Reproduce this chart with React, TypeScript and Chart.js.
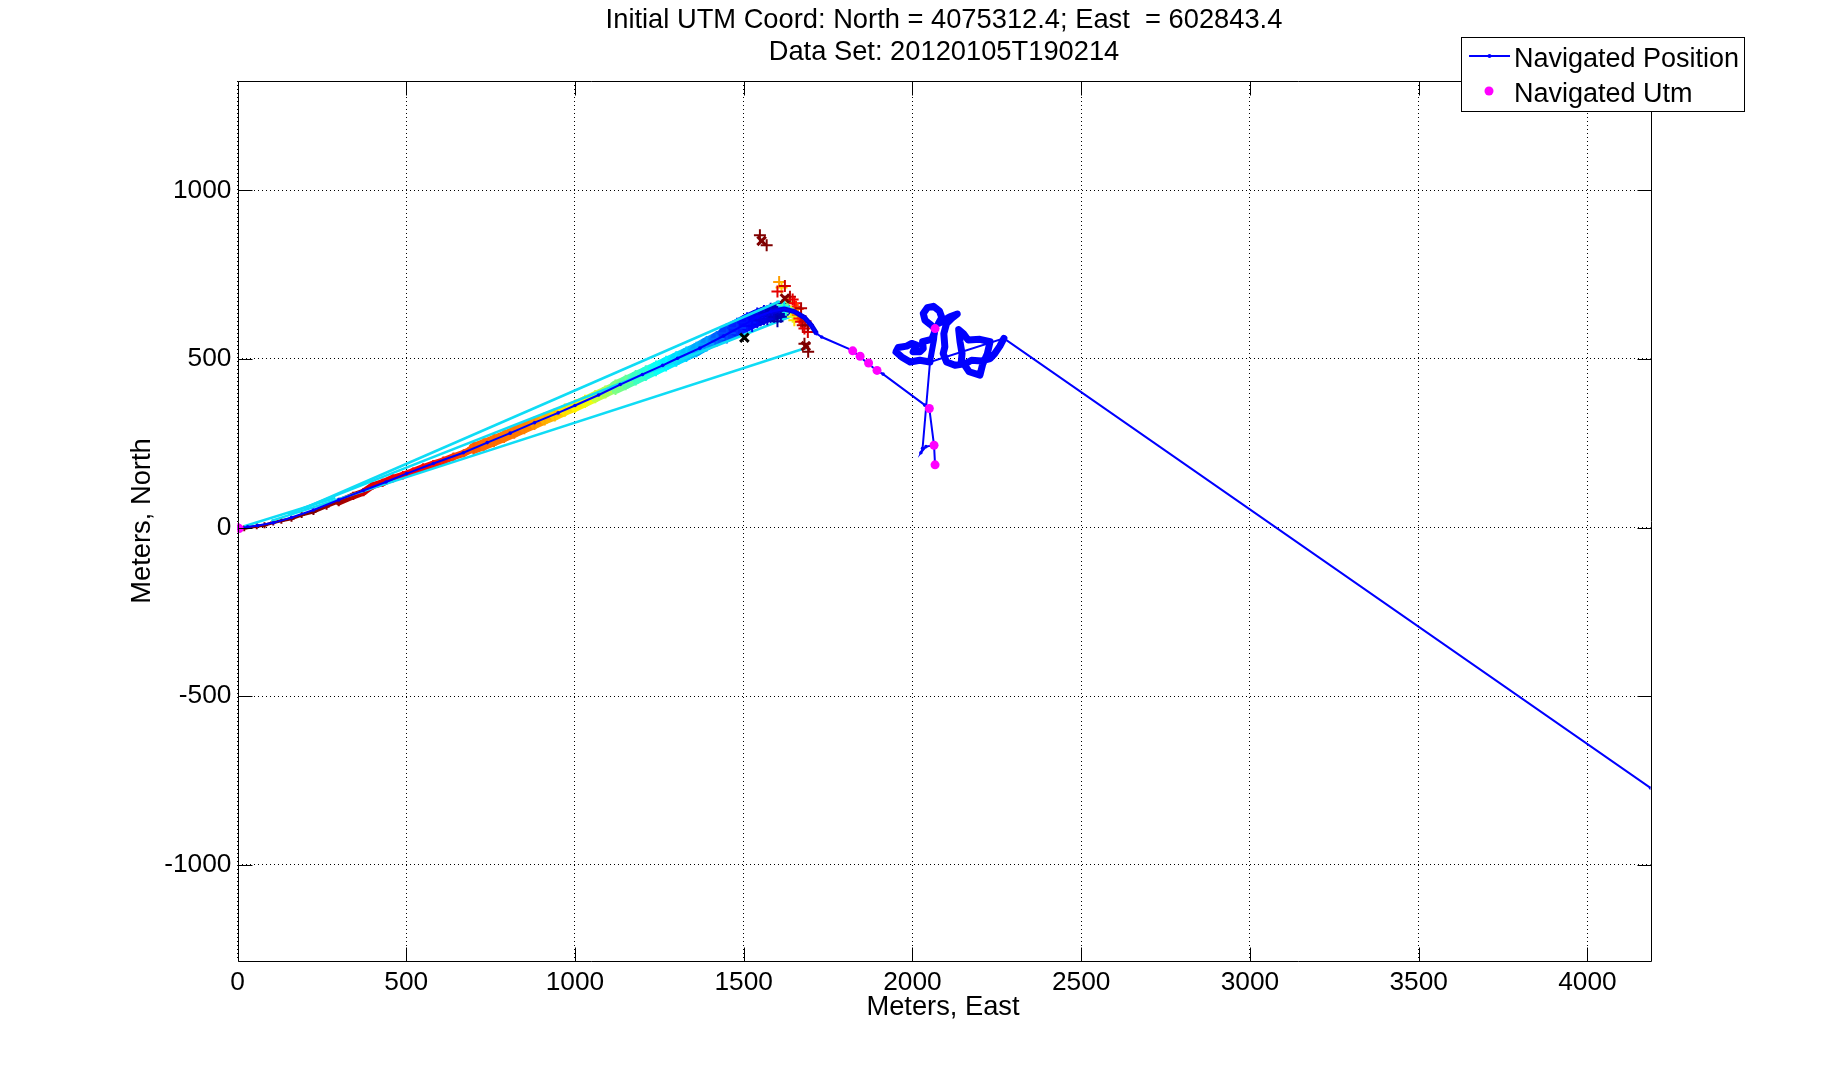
import { useEffect, useRef } from 'react';
import { Chart, registerables } from 'chart.js';

Chart.register(...registerables);

const TITLE_LINES = ['Initial UTM Coord: North = 4075312.4; East  = 602843.4', 'Data Set: 20120105T190214'];
const X_LABEL = 'Meters, East';
const Y_LABEL = 'Meters, North';
const LEGEND_LABELS = ['Navigated Position', 'Navigated Utm'];

const X_TICKS = [0, 500, 1000, 1500, 2000, 2500, 3000, 3500, 4000];
const Y_TICKS = [-1000, -500, 0, 500, 1000];
const X_MIN = 0;
const X_MAX = 4187;
const Y_MIN = -1285;
const Y_MAX = 1324;

// Navigated Position route (meters east / north)
const navEast = [0, 30, 60, 106, 160, 225, 300, 373, 440, 501, 580, 669, 740, 808, 880, 950, 1000, 1070, 1134, 1200, 1260, 1304, 1370, 1440, 1500, 1540, 1580, 1620, 1650, 1681, 1700, 1716, 1731, 1820, 1895, 1913, 2037, 2050, 2064, 2067, 2064, 2040, 2025, 2030, 2052, 2271, 4187];
const navNorth = [0, 2, 6, 14, 30, 52, 82, 110, 135, 160, 190, 222, 252, 280, 311, 340, 362, 393, 424, 454, 481, 502, 532, 568, 600, 625, 640, 648, 640, 622, 600, 575, 565, 526, 465, 455, 363, 353, 244, 186, 244, 240, 222, 235, 491, 561, -772];

// dense looping section of the route
const loopEast = [2052, 2022, 1993, 1968, 1951, 1958, 1983, 1998, 2012, 2002, 2022, 2032, 2030, 2057, 2064, 2067, 2052, 2037, 2032, 2044, 2062, 2080, 2087, 2077, 2086, 2111, 2133, 2116, 2101, 2093, 2096, 2091, 2101, 2126, 2144, 2147, 2141, 2137, 2151, 2165, 2200, 2230, 2222, 2208, 2200, 2168, 2153, 2175, 2205, 2230, 2244, 2259, 2271];
const loopNorth = [491, 496, 491, 506, 521, 534, 538, 546, 541, 521, 521, 531, 551, 558, 575, 590, 603, 615, 635, 652, 656, 642, 623, 605, 610, 625, 633, 620, 605, 575, 536, 516, 491, 481, 484, 516, 551, 587, 575, 556, 558, 551, 516, 484, 452, 462, 484, 496, 494, 501, 516, 538, 561];
const legEast = [2052, 2057, 2064, 2067];
const legNorth = [491, 520, 558, 590];
const clusterRouteEast = [1580, 1620, 1650, 1681, 1700, 1716];
const clusterRouteNorth = [640, 648, 640, 622, 600, 575];

// Navigated Utm fixes
const utmEast = [0, 5, 1823, 1845, 1870, 1895, 2050, 2067, 2064, 2067];
const utmNorth = [0, -3, 524, 508, 488, 466, 353, 590, 244, 186];

// colour-coded track estimates (value mapped through jet colormap)
const trackEast = [20, 57, 80, 106, 130, 160, 190, 225, 264, 300, 343, 373, 400, 430, 460, 490, 520, 550, 580, 610, 640, 670, 700, 730, 760, 790, 820, 850, 880, 910, 940, 970, 1000, 1030, 1060, 1090, 1120, 1150, 1180, 1210, 1240, 1270, 1300, 1330, 1360, 1390, 1420, 1450, 1480, 1510, 1540, 1560, 1580, 1600, 1615];
const trackNorth = [-2, 4, 7, 15, 20, 26, 37, 46, 62, 76, 94, 105, 124, 133, 146, 155, 166, 178, 188, 198, 210, 220, 235, 246, 258, 270, 283, 296, 309, 322, 334, 348, 360, 374, 388, 402, 416, 430, 444, 458, 472, 486, 500, 514, 528, 545, 560, 576, 592, 608, 622, 630, 636, 642, 646];
const trackValue = [1, 1, 1, 1, 1, 1, 1, 1, 0.98, 0.97, 0.95, 0.93, 0.9, 0.9, 0.89, 0.88, 0.87, 0.87, 0.86, 0.85, 0.82, 0.8, 0.79, 0.77, 0.77, 0.76, 0.76, 0.75, 0.74, 0.71, 0.69, 0.66, 0.64, 0.63, 0.57, 0.55, 0.5, 0.48, 0.44, 0.42, 0.39, 0.37, 0.35, 0.33, 0.3, 0.28, 0.24, 0.2, 0.17, 0.14, 0.12, 0.1, 0.08, 0.06, 0.05];

const clusterEast = [1605, 1612, 1600, 1622, 1630, 1615, 1637, 1645, 1650, 1655, 1660, 1640, 1645, 1650, 1660, 1665, 1670, 1675, 1680, 1690, 1670, 1683, 1690, 1630, 1625, 1620, 1548, 1568, 1691, 1680, 1590, 1610, 1570, 1600, 1550, 1525];
const clusterNorth = [728, 712, 700, 716, 668, 660, 684, 676, 665, 655, 648, 640, 625, 615, 630, 620, 610, 600, 590, 580, 650, 612, 600, 650, 640, 655, 867, 837, 521, 545, 625, 625, 618, 612, 615, 598];
const clusterValue = [0.72, 0.68, 0.9, 0.92, 0.55, 0.45, 0.95, 0.9, 0.88, 0.85, 0.8, 0.62, 0.58, 0.66, 0.75, 0.85, 0.9, 0.95, 0.9, 0.92, 0.95, 0.93, 0.98, 0.5, 0.4, 0.35, 1, 1, 1, 1, 0.07, 0.05, 0.09, 0.04, 0.1, 0.12];

// straight fix-to-fix jumps (cyan)
const jumpStartEast = [200, 150, 100, 20];
const jumpStartNorth = [58, 40, 20, 4];
const jumpEndEast = [1607, 1637, 1686, 290];
const jumpEndNorth = [671, 625, 533, 88];

// rejected fixes
const rejectEast = [1553, 1622, 1684];
const rejectNorth = [850, 679, 538];
const badEast = [1502];
const badNorth = [563];

const FONT = 'Liberation Sans, Arial, Helvetica, sans-serif';

const pts = (xs: number[], ys: number[]) => xs.map((x, i) => ({ x, y: ys[i] }));

const jet = (v: number) => {
  const c = (t: number) => Math.round(255 * Math.max(0, Math.min(1, t)));
  const r = c(1.5 - Math.abs(4 * v - 3));
  const g = c(1.5 - Math.abs(4 * v - 2));
  const b = c(1.5 - Math.abs(4 * v - 1));
  return `rgb(${r},${g},${b})`;
};

const bandWidth = (x: number) => (x < 300 ? 3 : x < 700 ? 7 : x < 1100 ? 11 : x < 1450 ? 13 : 17);

const framePlugin = {
  id: 'matlabFrame',
  afterDraw(chart: any) {
    const { ctx, chartArea } = chart;
    const { left, right, top, bottom } = chartArea;
    const xs = chart.scales.x;
    const ys = chart.scales.y;
    ctx.save();
    ctx.strokeStyle = '#000';
    ctx.lineWidth = 1;
    const L = Math.round(left) + 0.5;
    const R = Math.round(right) + 0.5;
    const T = Math.round(top) + 0.5;
    const B = Math.round(bottom) + 0.5;
    ctx.beginPath();
    ctx.rect(L, T, R - L, B - T);
    ctx.stroke();
    const tl = 14;
    ctx.beginPath();
    X_TICKS.forEach((v) => {
      const p = Math.round(xs.getPixelForValue(v)) + 0.5;
      ctx.moveTo(p, B);
      ctx.lineTo(p, B - tl);
      ctx.moveTo(p, T);
      ctx.lineTo(p, T + tl);
    });
    Y_TICKS.forEach((v) => {
      const p = Math.round(ys.getPixelForValue(v)) + 0.5;
      ctx.moveTo(L, p);
      ctx.lineTo(L + tl, p);
      ctx.moveTo(R, p);
      ctx.lineTo(R - tl, p);
    });
    ctx.stroke();

    // titles
    ctx.fillStyle = '#000';
    ctx.font = `27.3px ${FONT}`;
    ctx.textAlign = 'center';
    ctx.textBaseline = 'alphabetic';
    const cx = (left + right) / 2;
    ctx.fillText(TITLE_LINES[0], cx, 28);
    ctx.fillText(TITLE_LINES[1], cx, 60);
    ctx.fillText(X_LABEL, cx - 1, 1015);
    ctx.save();
    ctx.translate(150, (top + bottom) / 2);
    ctx.rotate(-Math.PI / 2);
    ctx.fillText(Y_LABEL, 0, 0);
    ctx.restore();

    // legend
    const lx = 1461.5, ly = 37.5, lw = 283, lh = 74;
    ctx.fillStyle = '#fff';
    ctx.fillRect(lx, ly, lw, lh);
    ctx.strokeStyle = '#000';
    ctx.lineWidth = 1;
    ctx.strokeRect(lx, ly, lw, lh);
    ctx.strokeStyle = '#0000ff';
    ctx.lineWidth = 2;
    ctx.beginPath();
    ctx.moveTo(1469, 56);
    ctx.lineTo(1510, 56);
    ctx.stroke();
    ctx.fillStyle = '#0000ff';
    ctx.beginPath();
    ctx.arc(1489.5, 56, 2, 0, Math.PI * 2);
    ctx.fill();
    ctx.fillStyle = '#ff00ff';
    ctx.beginPath();
    ctx.arc(1489, 91, 4.5, 0, Math.PI * 2);
    ctx.fill();
    ctx.fillStyle = '#000';
    ctx.font = `27px ${FONT}`;
    ctx.textAlign = 'left';
    ctx.fillText(LEGEND_LABELS[0], 1514, 67);
    ctx.fillText(LEGEND_LABELS[1], 1514, 102);
    ctx.restore();
  },
};

export default function App() {
  const ref = useRef<HTMLCanvasElement | null>(null);

  useEffect(() => {
    document.body.style.margin = '0';
    const canvas = ref.current;
    if (!canvas) return;

    const jumpSets = jumpStartEast.map((sx, i) => ({
      label: '',
      data: pts([sx, jumpEndEast[i]], [jumpStartNorth[i], jumpEndNorth[i]]),
      showLine: true,
      borderColor: '#0fdcf5',
      borderWidth: 2.5,
      pointRadius: 0,
      order: 5,
    }));

    const chart = new Chart(canvas, {
      type: 'scatter',
      data: {
        datasets: [
          {
            label: LEGEND_LABELS[1],
            data: pts(utmEast, utmNorth),
            pointStyle: 'circle',
            pointRadius: 4.5,
            pointBackgroundColor: '#ff00ff',
            pointBorderColor: '#ff00ff',
            pointBorderWidth: 0,
            order: 0,
          },
          {
            label: '',
            data: pts(badEast, badNorth),
            pointStyle: 'crossRot',
            pointRadius: 6,
            pointBorderWidth: 3,
            pointBorderColor: '#000',
            order: 1,
          },
          {
            label: '',
            data: pts(rejectEast, rejectNorth),
            pointStyle: 'crossRot',
            pointRadius: 6,
            pointBorderWidth: 3,
            pointBorderColor: '#800000',
            order: 1,
          },
          {
            label: LEGEND_LABELS[0],
            data: pts(navEast, navNorth),
            showLine: true,
            borderColor: '#0000ff',
            borderWidth: 2,
            pointRadius: 1.8,
            pointBackgroundColor: '#0000ff',
            pointBorderWidth: 0,
            tension: 0,
            order: 2,
          },
          {
            label: '',
            data: pts(loopEast, loopNorth),
            showLine: true,
            borderColor: '#0000ff',
            borderWidth: 7,
            borderJoinStyle: 'round',
            borderCapStyle: 'round',
            pointRadius: 0,
            tension: 0,
            order: 3,
          },
          {
            label: '',
            data: pts(legEast, legNorth),
            showLine: true,
            borderColor: '#0000ff',
            borderWidth: 6,
            borderCapStyle: 'round',
            pointRadius: 0,
            order: 3,
          },
          {
            label: '',
            data: pts(clusterRouteEast, clusterRouteNorth),
            showLine: true,
            borderColor: '#0000e0',
            borderWidth: 5,
            borderJoinStyle: 'round',
            pointRadius: 0,
            order: 3,
          },
          {
            label: '',
            data: pts(clusterEast, clusterNorth),
            pointStyle: 'cross',
            pointRadius: 6,
            pointBorderWidth: 2,
            pointBorderColor: (c: any) => jet(clusterValue[c.dataIndex] ?? 0),
            order: 4,
          },
          ...jumpSets,
          {
            label: '',
            data: pts(trackEast, trackNorth),
            pointStyle: 'cross',
            pointRadius: (c: any) => Math.max(3, bandWidth(trackEast[c.dataIndex] ?? 0) * 0.6),
            pointBorderWidth: 2,
            pointBorderColor: (c: any) => jet(trackValue[c.dataIndex] ?? 0),
            order: 6,
          },
          {
            label: '',
            data: pts(trackEast, trackNorth),
            showLine: true,
            pointRadius: 0,
            borderCapStyle: 'round',
            segment: {
              borderColor: (c: any) => jet(((trackValue[c.p0DataIndex] ?? 0) + (trackValue[c.p1DataIndex] ?? 0)) / 2),
              borderWidth: (c: any) => bandWidth(trackEast[c.p0DataIndex] ?? 0),
            },
            order: 7,
          },
        ],
      },
      options: {
        animation: false,
        responsive: false,
        events: [],
        layout: { padding: { top: 81, right: 173.5, bottom: 0, left: 0 } },
        plugins: {
          legend: { display: false },
          title: { display: false },
          tooltip: { enabled: false },
        },
        scales: {
          x: {
            type: 'linear',
            min: X_MIN,
            max: X_MAX,
            afterBuildTicks: (s: any) => {
              s.ticks = X_TICKS.map((v) => ({ value: v }));
            },
            afterFit: (s: any) => {
              s.height = 119;
            },
            ticks: {
              font: { family: FONT, size: 26.3 },
              color: '#000',
              padding: 5.5,
              maxRotation: 0,
              autoSkip: false,
              callback: (v: any) => String(v),
            },
            grid: { color: '#000', lineWidth: 1, drawTicks: false },
            border: { display: false, dash: [1, 3] },
          },
          y: {
            type: 'linear',
            min: Y_MIN,
            max: Y_MAX,
            afterBuildTicks: (s: any) => {
              s.ticks = Y_TICKS.map((v) => ({ value: v }));
            },
            afterFit: (s: any) => {
              s.width = 237.5;
            },
            ticks: {
              font: { family: FONT, size: 26.3 },
              color: '#000',
              padding: 6,
              autoSkip: false,
              callback: (v: any) => String(v),
            },
            grid: { color: '#000', lineWidth: 1, drawTicks: false },
            border: { display: false, dash: [1, 3] },
          },
        },
      },
      plugins: [framePlugin],
    } as any);

    return () => chart.destroy();
  }, []);

  return (
    <div style={{ width: 1824, height: 1080, background: '#fff' }}>
      <canvas ref={ref} width={1824} height={1080} style={{ display: 'block', width: 1824, height: 1080 }} />
    </div>
  );
}
